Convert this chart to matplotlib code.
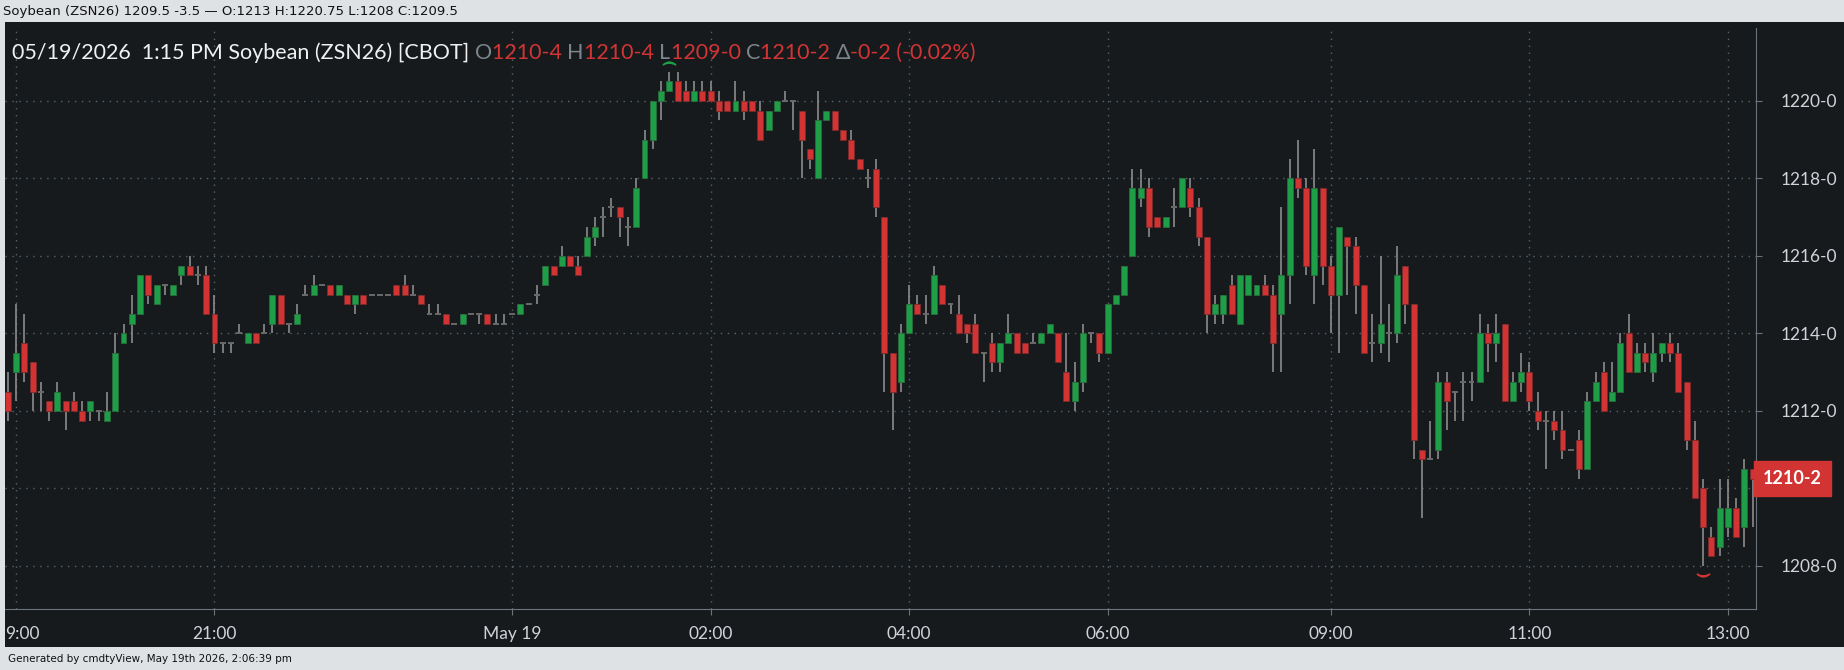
import matplotlib
matplotlib.use("Agg")
import matplotlib.pyplot as plt
import matplotlib.patches as mpatches
import numpy as np

# ---- data (5-minute bars, ZSN26) ----
opens = [1212.5,1213.0,1213.75,1213.25,1212.5,1212.25,1212.0,1212.25,1212.25,1212.0,
 1212.0,1212.0,1211.75,1212.0,1213.75,1214.25,1214.5,1215.5,1214.75,1215.25,
 1215.0,1215.5,1215.75,1215.5,1215.5,1214.5,1213.75,1213.75,1214.0,1213.75,
 1214.0,1214.0,1214.25,1215.0,1214.25,1214.25,1215.0,1215.0,1215.25,1215.25,
 1215.0,1215.0,1214.75,1215.0,1215.0,1215.0,1215.0,1215.25,1215.25,1215.0,
 1215.0,1214.5,1214.5,1214.5,1214.25,1214.25,1214.5,1214.5,1214.5,1214.25,
 1214.25,1214.5,1214.5,1214.75,1215.0,1215.25,1215.75,1215.75,1216.0,1215.75,
 1216.0,1216.5,1217.0,1217.25,1217.25,1216.75,1216.75,1218.0,1219.0,1220.0,
 1220.25,1220.5,1220.25,1220.0,1220.25,1220.25,1220.0,1220.0,1219.75,1220.0,
 1220.0,1219.75,1219.25,1219.75,1220.0,1220.0,1219.75,1218.75,1218.0,1219.5,
 1219.75,1219.25,1219.0,1218.5,1218.0,1218.25,1217.0,1213.5,1212.75,1214.0,
 1214.75,1214.5,1214.5,1215.25,1214.75,1214.5,1214.25,1214.25,1213.5,1213.75,
 1213.25,1213.75,1214.0,1213.75,1213.75,1213.75,1214.0,1214.0,1213.0,1212.25,
 1212.75,1214.0,1214.0,1213.5,1214.75,1215.0,1216.0,1217.5,1217.75,1217.0,
 1216.75,1217.25,1217.25,1217.75,1217.25,1216.5,1214.5,1214.5,1215.25,1214.25,
 1215.0,1215.0,1215.25,1215.0,1214.5,1215.5,1218.0,1217.75,1215.5,1217.75,
 1215.75,1215.0,1216.5,1216.25,1215.25,1213.75,1213.75,1214.0,1214.0,1215.75,
 1214.75,1211.0,1210.75,1211.0,1212.75,1212.5,1212.75,1212.75,1212.75,1214.0,1213.75,1214.25,
 1212.25,1212.75,1213.0,1212.0,1211.75,1211.75,1211.5,1211.0,1211.25,1210.5,
 1212.25,1213.0,1212.25,1212.5,1214.0,1213.0,1213.5,1213.0,1213.5,1213.75,
 1213.5,1212.75,1211.25,1210.0,1208.75,1208.5,1209.0,1209.5,1209.0,1210.5]
highs = [1213.0,1214.75,1214.5,1213.25,1212.75,1212.25,1212.75,1212.25,1212.5,1212.25,
 1212.25,1212.0,1212.5,1214.0,1214.25,1215.0,1215.5,1215.5,1215.25,1215.25,
 1215.25,1215.75,1216.0,1215.75,1215.75,1215.0,1213.75,1213.75,1214.25,1214.0,
 1214.0,1214.25,1215.0,1215.0,1214.25,1214.75,1215.25,1215.5,1215.25,1215.25,
 1215.25,1215.0,1215.0,1215.0,1215.0,1215.0,1215.0,1215.25,1215.5,1215.25,
 1215.0,1214.75,1214.75,1214.5,1214.25,1214.5,1214.5,1214.5,1214.5,1214.5,
 1214.5,1214.5,1214.75,1214.75,1215.25,1215.75,1215.75,1216.25,1216.0,1216.0,
 1216.75,1217.0,1217.25,1217.5,1217.25,1217.0,1218.0,1219.25,1220.0,1220.5,
 1220.75,1220.75,1220.5,1220.5,1220.5,1220.5,1220.25,1220.0,1220.5,1220.25,
 1220.0,1220.0,1219.75,1220.0,1220.25,1220.0,1219.75,1218.75,1220.25,1219.75,
 1219.75,1219.25,1219.25,1218.5,1218.25,1218.5,1217.0,1213.5,1214.25,1215.25,
 1215.0,1215.0,1215.75,1215.25,1214.75,1215.0,1214.25,1214.5,1213.5,1214.0,
 1213.75,1214.5,1214.0,1213.75,1214.0,1214.0,1214.25,1214.0,1214.0,1213.25,
 1214.25,1214.0,1214.0,1214.75,1215.0,1215.75,1218.25,1218.25,1218.0,1217.0,
 1217.0,1217.75,1218.0,1218.0,1217.5,1216.5,1215.0,1215.0,1215.5,1215.5,
 1215.5,1215.25,1215.5,1215.25,1217.25,1218.5,1219.0,1218.0,1218.75,1217.75,
 1216.0,1216.75,1216.5,1216.5,1215.25,1214.5,1216.0,1214.75,1216.25,1215.75,
 1214.75,1211.0,1211.75,1213.0,1213.0,1212.5,1213.0,1213.0,1214.5,1214.25,1214.5,1214.25,
 1213.0,1213.5,1213.25,1212.5,1212.0,1212.0,1212.0,1211.0,1211.5,1212.5,
 1213.0,1213.25,1213.25,1214.0,1214.5,1213.75,1213.75,1214.0,1213.75,1214.0,
 1213.75,1212.75,1211.75,1210.25,1209.0,1210.25,1210.25,1209.75,1210.75,1210.5]
lows = [1211.75,1212.25,1212.75,1212.0,1212.0,1211.75,1212.0,1211.5,1212.0,1211.75,
 1211.75,1211.75,1211.75,1212.0,1213.75,1213.75,1214.5,1214.75,1214.75,1215.0,
 1215.0,1215.25,1215.5,1215.25,1214.5,1213.5,1213.5,1213.5,1214.0,1213.75,
 1213.75,1214.0,1214.0,1214.25,1214.0,1214.25,1215.0,1215.0,1215.25,1215.0,
 1215.0,1214.75,1214.5,1214.75,1215.0,1215.0,1215.0,1215.0,1215.0,1215.0,
 1214.75,1214.5,1214.5,1214.25,1214.25,1214.25,1214.5,1214.25,1214.25,1214.25,
 1214.25,1214.5,1214.5,1214.75,1214.75,1215.25,1215.5,1215.75,1215.75,1215.5,
 1216.0,1216.25,1216.5,1217.0,1216.5,1216.25,1216.75,1218.0,1218.75,1219.5,
 1220.25,1220.0,1220.0,1220.0,1220.0,1220.0,1219.5,1219.75,1219.75,1219.5,
 1219.75,1219.0,1219.25,1219.75,1220.0,1219.25,1218.0,1218.25,1218.0,1219.5,
 1219.25,1219.0,1218.5,1218.25,1217.75,1217.0,1212.5,1211.5,1212.5,1214.0,
 1214.5,1214.25,1214.5,1214.75,1214.5,1214.0,1213.75,1213.5,1212.75,1213.0,
 1213.0,1213.75,1213.5,1213.5,1213.75,1213.75,1214.0,1213.25,1212.25,1212.0,
 1212.5,1213.75,1213.25,1213.5,1214.75,1215.0,1216.0,1217.25,1216.5,1216.75,
 1216.75,1216.75,1217.25,1217.0,1216.25,1214.0,1214.25,1214.25,1214.5,1214.25,
 1215.0,1215.0,1215.0,1213.0,1213.0,1214.75,1217.5,1215.5,1214.75,1215.25,
 1214.0,1213.5,1215.0,1214.5,1213.5,1213.25,1213.5,1213.25,1213.75,1214.25,
 1210.75,1209.25,1210.75,1210.75,1211.5,1211.75,1211.75,1212.25,1212.75,1213.0,1213.25,1212.25,
 1212.25,1212.5,1212.0,1211.5,1210.5,1211.25,1210.75,1211.0,1210.25,1210.5,
 1212.25,1212.0,1212.25,1212.5,1213.0,1213.0,1213.0,1212.75,1213.25,1213.25,
 1212.5,1211.0,1209.75,1208.0,1208.25,1208.25,1208.75,1208.75,1208.5,1209.0]
closes = [1212.0,1213.5,1213.0,1212.5,1212.5,1212.0,1212.5,1212.0,1212.0,1211.75,
 1212.25,1212.0,1212.0,1213.5,1214.0,1214.5,1215.5,1215.0,1215.25,1215.25,
 1215.25,1215.75,1215.5,1215.5,1214.5,1213.75,1213.75,1213.75,1214.0,1214.0,
 1213.75,1214.0,1215.0,1214.25,1214.25,1214.5,1215.0,1215.25,1215.25,1215.0,
 1215.25,1214.75,1215.0,1214.75,1215.0,1215.0,1215.0,1215.0,1215.0,1215.0,
 1214.75,1214.5,1214.5,1214.25,1214.25,1214.5,1214.5,1214.5,1214.25,1214.25,
 1214.25,1214.5,1214.75,1214.75,1215.0,1215.75,1215.5,1216.0,1215.75,1215.5,
 1216.5,1216.75,1217.0,1217.25,1217.0,1216.75,1217.75,1219.0,1220.0,1220.25,
 1220.5,1220.0,1220.0,1220.25,1220.0,1220.0,1219.75,1219.75,1220.0,1219.75,
 1219.75,1219.0,1219.75,1220.0,1220.0,1220.0,1219.0,1218.5,1219.5,1219.75,
 1219.25,1219.0,1218.5,1218.25,1218.0,1217.25,1213.5,1212.5,1214.0,1214.75,
 1214.5,1214.5,1215.5,1214.75,1214.75,1214.0,1214.0,1213.5,1213.5,1213.25,
 1213.75,1214.0,1213.5,1213.5,1213.75,1214.0,1214.25,1213.25,1212.25,1212.75,
 1214.0,1214.0,1213.5,1214.75,1215.0,1215.75,1217.75,1217.75,1216.75,1216.75,
 1217.0,1217.25,1218.0,1217.25,1216.5,1214.5,1214.75,1215.0,1214.5,1215.5,
 1215.5,1215.25,1215.0,1213.75,1215.5,1218.0,1217.75,1215.75,1217.75,1215.75,
 1215.0,1216.75,1216.25,1215.25,1213.5,1213.75,1214.25,1214.0,1215.5,1214.75,
 1211.25,1210.75,1210.75,1212.75,1212.25,1212.5,1212.75,1212.75,1214.0,1213.75,1214.0,1212.25,
 1212.75,1213.0,1212.25,1211.75,1211.75,1211.5,1211.0,1211.0,1210.5,1212.25,
 1212.75,1212.0,1212.5,1213.75,1213.0,1213.5,1213.25,1213.5,1213.75,1213.5,
 1212.5,1211.25,1209.75,1209.0,1208.25,1209.5,1209.5,1208.75,1210.5,1210.25]

tick_idx = [25, 61, 85, 109, 133, 160, 184, 208]
tick_lab = ["21:00", "May 19", "02:00", "04:00", "06:00", "09:00", "11:00", "13:00"]
price_ticks = [1208, 1210, 1212, 1214, 1216, 1218, 1220]

def fmt(p):
    w = int(np.floor(p + 1e-9)); e = int(round((p - w) * 8))
    return f"{w}-{e}"

W, H = 1844, 670
BG = "#161a1d"; GREEN = "#1e9e46"; RED = "#d23434"; WICK = "#8c8c8c"
fig = plt.figure(figsize=(W/100, H/100), dpi=100)
fig.patch.set_facecolor("#dfe2e5")
fig.patches.append(mpatches.Rectangle((5/W, 1-647/H), 1-5/W, (647-22)/H,
                   transform=fig.transFigure, facecolor=BG, edgecolor="none", zorder=-10))
ax = fig.add_axes([5/W, 1-609/H, (1756-5)/W, (609-28)/H])
ax.set_facecolor(BG)
n = len(opens)
x = np.arange(n)
o = np.array(opens); h = np.array(highs); l = np.array(lows); c = np.array(closes)

for p in price_ticks:
    ax.axhline(p, color="#59636b", lw=1, ls=(0, (1, 4)), zorder=1)
for t in tick_idx:
    ax.axvline(t, color="#59636b", lw=1, ls=(0, (1, 4)), zorder=1)
ax.axvline(1, color="#59636b", lw=1, ls=(0, (1, 4)), zorder=1)

ax.vlines(x, l, h, color=WICK, lw=1.2, zorder=2)
up = c > o; dn = c < o; eq = c == o
ax.bar(x[up], c[up]-o[up], bottom=o[up], width=0.72, color=GREEN, edgecolor="#2a6b3c", lw=0.6, zorder=3)
ax.bar(x[dn], o[dn]-c[dn], bottom=c[dn], width=0.72, color=RED, edgecolor="#7a2a2a", lw=0.6, zorder=3)
ax.hlines(o[eq], x[eq]-0.36, x[eq]+0.36, color="#6a6a6a", lw=1.4, zorder=3)

ihi = int(np.argmax(h)); ilo = int(np.argmin(l))
ax.plot(ihi, h[ihi]+0.22, marker=r"$\frown$", color=GREEN, ms=9, zorder=4)
ax.plot(ilo, l[ilo]-0.22, marker=r"$\smile$", color=RED, ms=9, zorder=4)

ax.set_xlim(-0.33, 211.4)
ax.set_ylim(1206.89, 1221.88)
for s in ["top", "left"]:
    ax.spines[s].set_visible(False)
for s in ["right", "bottom"]:
    ax.spines[s].set_color("#6b747b")
ax.yaxis.tick_right()
ax.set_yticks(price_ticks)
ax.set_yticklabels([fmt(p) if p != 1210 else "" for p in price_ticks], fontsize=12.5,
                   color="#d0d4d8", family="Lato")
ax.set_xticks(tick_idx)
ax.set_xticklabels(tick_lab, fontsize=12.5, color="#d0d4d8", family="Lato")
ax.tick_params(axis="both", length=4, color="#6b747b", pad=8)
ax.tick_params(axis="y", pad=14)
ax.annotate("9:00", xy=(-0.33, 0), xycoords=("data", "axes fraction"),
            xytext=(0, -12), textcoords="offset points", fontsize=12.5,
            color="#d0d4d8", family="Lato", va="top", ha="left", annotation_clip=False)

# last price label
last = c[-1]
ax.annotate(fmt(last), xy=(1.0, last), xycoords=("axes fraction", "data"),
            xytext=(5, 0), textcoords="offset points", va="center", ha="left",
            fontsize=13, fontweight="bold", color="white", family="Lato",
            bbox=dict(boxstyle="square,pad=0.5", fc=RED, ec=RED))

# header
parts = [("05/19/2026  1:15 PM Soybean (ZSN26) [CBOT] ", "#f0f0f0"),
         ("O", "#7d858c"), (fmt(o[-1]) + " ", RED),
         ("H", "#7d858c"), (fmt(h[-1]) + " ", RED),
         ("L", "#7d858c"), (fmt(l[-1]) + " ", RED),
         ("C", "#7d858c"), (fmt(c[-1]) + " ", RED),
         ("Δ", "#7d858c"), ("-0-2 (-0.02%)", RED)]
prev = ax.text(0.004, 0.975, parts[0][0], transform=ax.transAxes, fontsize=15.5,
               color=parts[0][1], family="Lato", va="top", ha="left")
for txt, col in parts[1:]:
    prev = ax.annotate(txt, xy=(1, 0), xycoords=prev, va="bottom", ha="left",
                       fontsize=15.5, color=col, family="Lato")

fig.text(3/W, 1-12/H, "Soybean (ZSN26) 1209.5 -3.5 — O:1213 H:1220.75 L:1208 C:1209.5",
         fontsize=9.5, color="#111", va="center", ha="left", family="DejaVu Sans")
fig.text(8/W, 1-659/H, "Generated by cmdtyView, May 19th 2026, 2:06:39 pm",
         fontsize=7.5, color="#111", va="center", ha="left", family="DejaVu Sans")

fig.savefig("out.png", dpi=100, facecolor=fig.get_facecolor())
